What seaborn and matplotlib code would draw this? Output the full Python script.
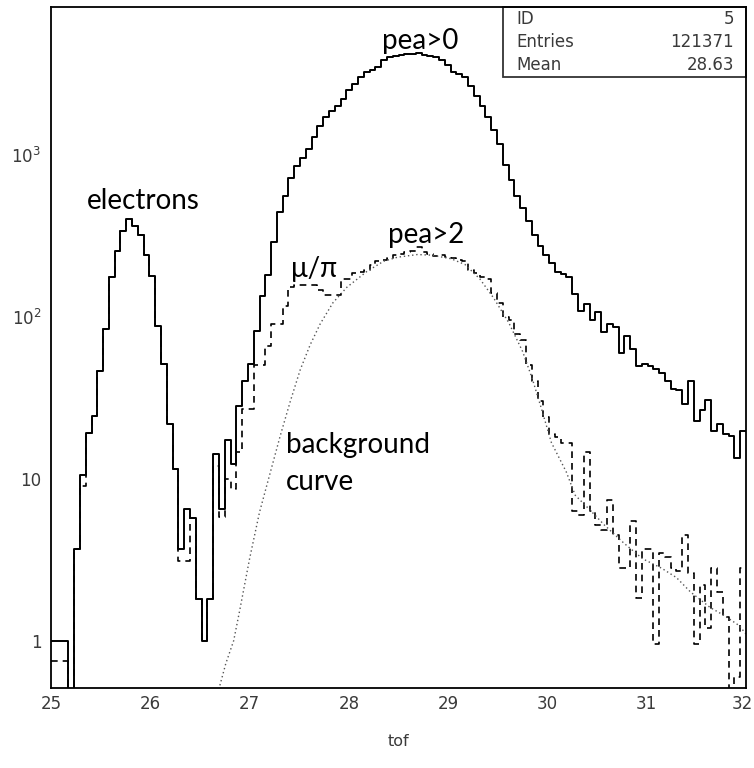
import numpy as np
import pandas as pd
import matplotlib
matplotlib.use("Agg")
import matplotlib.pyplot as plt
import seaborn as sns
from matplotlib.ticker import FixedLocator, LogLocator, NullFormatter, MultipleLocator
from matplotlib.patches import Rectangle
from matplotlib.transforms import ScaledTranslation

# ---------------- data ----------------
x_min, x_max, n_bins = 25.0, 32.0, 120

pea0_counts = [
    1, 1, 1, 0, 3.7, 10.5, 19.2, 24.4, 46, 84.5,
    176, 256, 336, 403, 362, 320, 240, 178, 88, 51,
    21.9, 11.4, 3.7, 6.5, 5.7, 1.8, 1, 1.8, 14.3, 6.5,
    17.3, 12.4, 28, 40, 51, 82, 135, 180, 290, 440,
    560, 720, 850, 960, 1090, 1280, 1500, 1720, 1860, 1990,
    2220, 2520, 2740, 3000, 3250, 3350, 3500, 3850, 4000, 4080,
    4120, 4160, 4200, 4220, 4150, 4080, 4000, 3850, 3600, 3260,
    3150, 3020, 2650, 2300, 1990, 1700, 1420, 1160, 860, 700,
    560, 470, 390, 320, 275, 240, 215, 188, 184, 175,
    138, 109, 120, 96, 107, 80, 90, 86, 60, 76,
    63, 49.6, 50.8, 49.6, 47.3, 45, 40, 36, 35.3, 29,
    40, 22.8, 26.5, 30.8, 19.8, 21.8, 18.8, 18.4, 13.5, 19.8,
]

pea2_counts = [
    0.75, 0.75, 0.75, 0, 3.7, 9, 19.2, 24.4, 46, 84.5,
    176, 256, 336, 403, 362, 320, 240, 178, 88, 51,
    21.9, 11.4, 3.1, 3.1, 5.7, 1.8, 1, 1.8, 12, 5.8,
    10, 8.6, 14.6, 27, 27, 50, 50, 66, 90, 90,
    117, 152, 158, 158, 158, 158, 146, 137, 137, 137,
    170, 172, 185, 190, 195, 208, 220, 225, 232, 240,
    245, 250, 255, 268, 252, 245, 238, 242, 235, 230,
    225, 220, 195, 185, 176, 170, 140, 122, 100, 96,
    78, 72, 50, 40, 30, 24, 19, 18, 16.5, 16.5,
    6.3, 6.0, 14.7, 6.3, 5.2, 4.8, 7.4, 4.5, 2.8, 2.8,
    5.45, 1.84, 3.7, 3.7, 0.95, 3.5, 3.3, 2.8, 2.7, 4.5,
    2.6, 0.95, 2.2, 1.2, 2.8, 2.0, 1.4, 0.4, 0.6, 2.8,
]

bg_x = [26.69, 26.76, 26.84, 26.90, 27.00, 27.10, 27.21, 27.31, 27.41, 27.51,
        27.61, 27.71, 27.84, 27.98, 28.18, 28.35, 28.49, 28.69, 28.83, 29.03,
        29.17, 29.32, 29.46, 29.61, 29.75, 29.85, 29.94, 30.04, 30.19, 30.28,
        30.43, 30.57, 30.77, 30.96, 31.15, 31.30, 31.44, 31.64, 31.78, 31.93,
        32.00]
bg_y = [0.5, 0.72, 1.0, 1.53, 3.2, 6.2, 11, 18.5, 30, 47,
        67, 90, 122, 152, 190, 220, 233, 242, 240, 228,
        210, 171, 130, 92, 61, 41, 27, 16.7, 11, 7.9,
        6.4, 5.2, 4.0, 3.2, 2.8, 2.45, 2.0, 1.6, 1.43, 1.24,
        1.1]

x_ticks = [25, 26, 27, 28, 29, 30, 31, 32]
y_ticks = [1, 10, 100, 1000]
y_tick_labels = ["1", "10", r"$10^{2}$", r"$10^{3}$"]
stats_rows = [("ID", "5"), ("Entries", "121371"), ("Mean", "28.63")]

# ---------------- build frames ----------------
bin_w = (x_max - x_min) / n_bins
centers = x_min + bin_w * (np.arange(n_bins) + 0.5)
df = pd.DataFrame({"tof": centers, "pea0": pea0_counts, "pea2": pea2_counts})
bg = pd.DataFrame({"tof": bg_x, "bkg": bg_y})

sns.set_style("white")
plt.rcParams["font.family"] = ["DejaVu Sans"]

fig = plt.figure(figsize=(7.54, 7.68), dpi=100)
ax = fig.add_axes([51 / 754, 1 - 688 / 768, 695 / 754, 681 / 768])

sns.histplot(data=df, x="tof", weights="pea0", bins=n_bins, binrange=(x_min, x_max),
             element="step", fill=False, color="black", linewidth=1.4, ax=ax)
sns.histplot(data=df, x="tof", weights="pea2", bins=n_bins, binrange=(x_min, x_max),
             element="step", fill=False, color="black", linewidth=1.2,
             linestyle=(0, (4, 3)), ax=ax)
sns.lineplot(data=bg, x="tof", y="bkg", color="#555555", linewidth=1.0,
             linestyle=(0, (1, 2)), ax=ax)

ax.set_yscale("log", nonpositive="clip")
ax.set_xlim(x_min, x_max)
ax.set_ylim(0.51, 8170)

# ticks PAW style (inward)
ax.xaxis.set_major_locator(FixedLocator(x_ticks))
ax.xaxis.set_minor_locator(MultipleLocator(0.2))
ax.set_xticklabels([str(t) for t in x_ticks])
ax.yaxis.set_major_locator(FixedLocator(y_ticks))
ax.set_yticklabels(y_tick_labels)
ax.yaxis.set_minor_locator(LogLocator(base=10, subs=np.arange(2, 10)))
ax.yaxis.set_minor_formatter(NullFormatter())
ax.tick_params(axis="both", which="major", direction="in", length=10, width=1.1,
               colors="black", labelcolor="#3a3a3a", labelsize=12)
ax.tick_params(axis="both", which="minor", direction="in", length=6, width=1.0)
ax.tick_params(axis="x", which="both", top=False, pad=5)
ax.tick_params(axis="y", which="both", right=False, pad=7)
for s in ax.spines.values():
    s.set_linewidth(1.3)
    s.set_color("black")

# keep the last x label just inside the canvas
last = ax.get_xticklabels()[-1]
last.set_transform(last.get_transform() + ScaledTranslation(-4 / 100, 0, fig.dpi_scale_trans))

ax.set_xlabel("tof", fontsize=11.5, color="#3a3a3a", labelpad=15)
ax.set_ylabel("")

# stats box
ax.add_patch(Rectangle((0.650, 0.897), 0.35, 0.103, transform=ax.transAxes,
                       fill=False, edgecolor="#333333", linewidth=1.3, clip_on=False))
for k, (lab, val) in enumerate(stats_rows):
    yy = 0.982 - k * 0.0335
    ax.text(0.669, yy, lab, transform=ax.transAxes, fontsize=12,
            color="#3a3a3a", va="center", ha="left")
    ax.text(0.983, yy, val, transform=ax.transAxes, fontsize=12,
            color="#3a3a3a", va="center", ha="right")

# annotations
ann = dict(fontsize=20, color="black", family=["Lato", "DejaVu Sans"], va="baseline")
ax.text(28.72, 4500, "pea>0", ha="center", **ann)
ax.text(25.93, 465, "electrons", ha="center", **ann)
ax.text(28.78, 286, "pea>2", ha="center", **ann)
ax.text(27.65, 175, "μ/π", ha="center", **ann)
ax.text(27.37, 14.5, "background", ha="left", **ann)
ax.text(27.37, 8.5, "curve", ha="left", **ann)

fig.savefig("out.png", dpi=100)
